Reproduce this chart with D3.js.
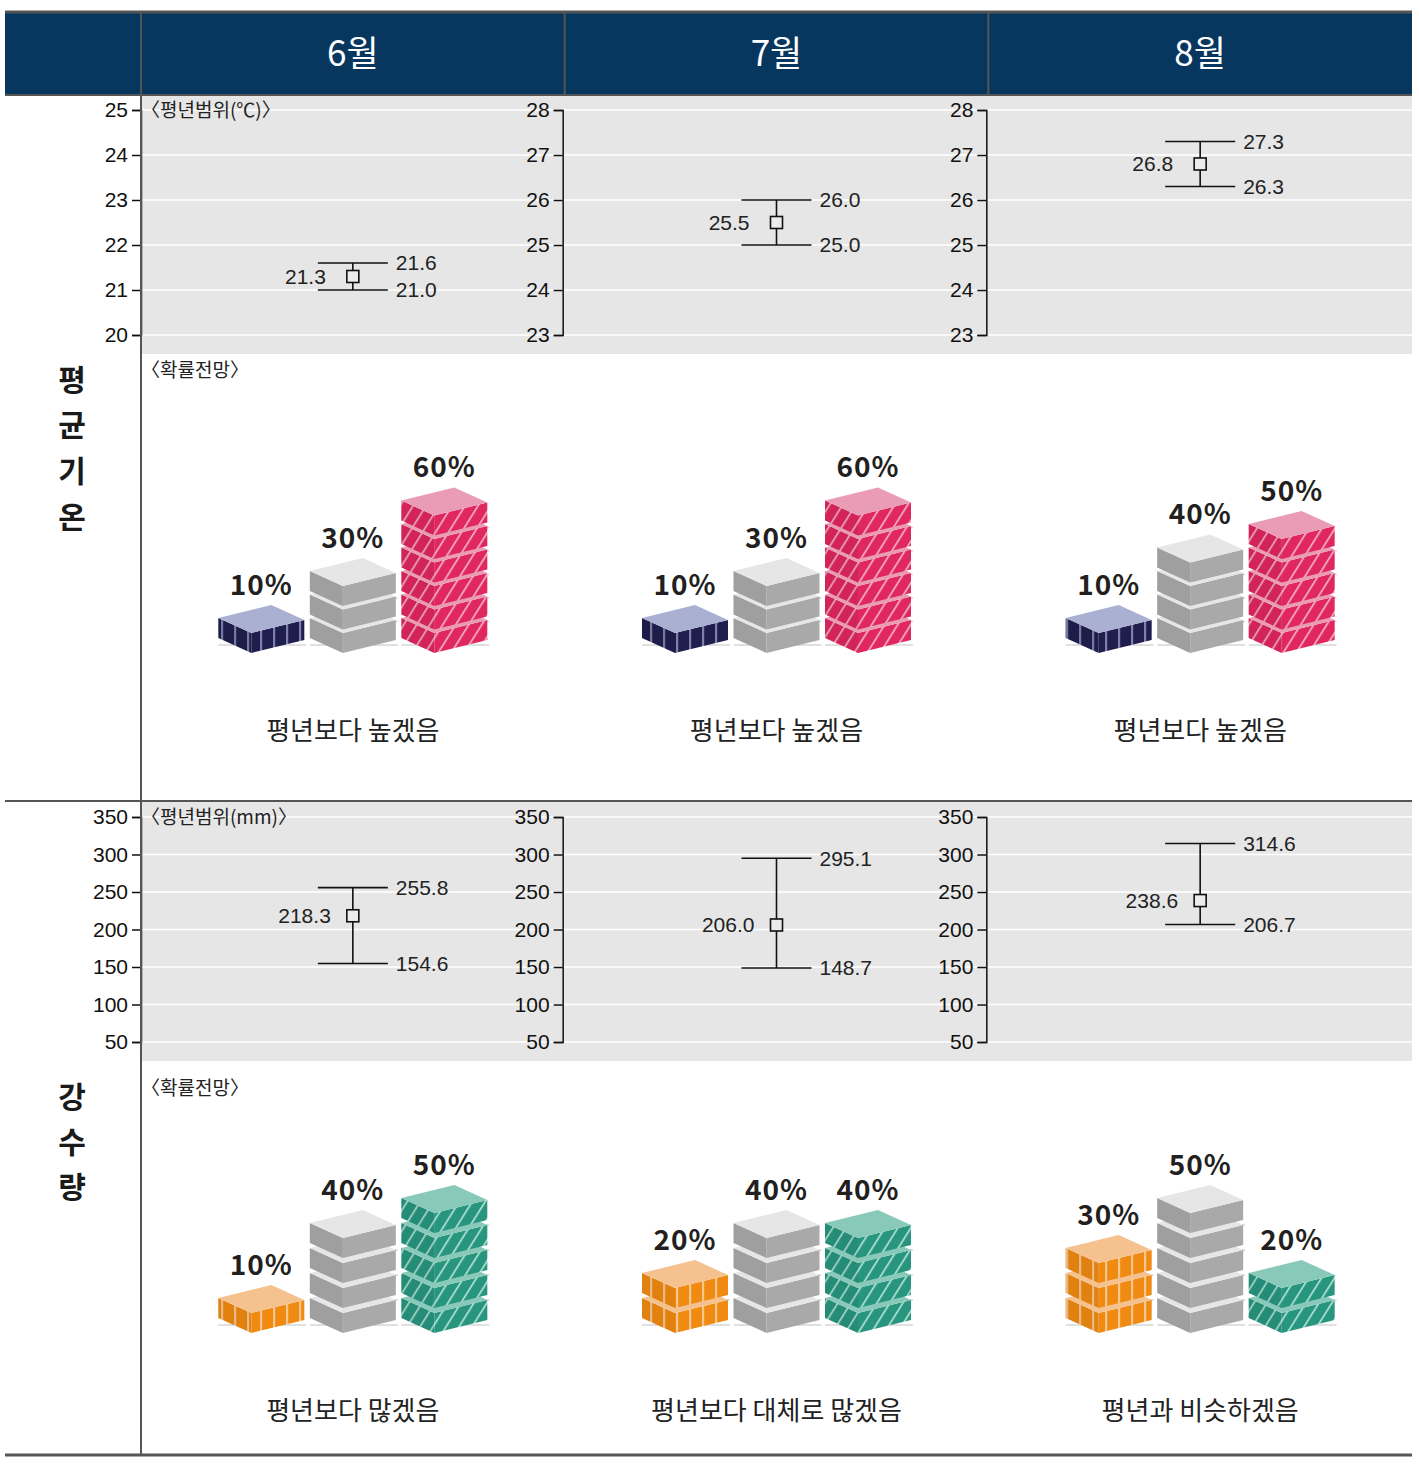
<!DOCTYPE html>
<html>
<head>
<meta charset="utf-8">
<script src="https://cdn.jsdelivr.net/npm/d3@7"></script>
<style>
  body { margin: 0; background: #fff; }
  svg { display: block; }
</style>
</head>
<body>
<svg id="chart"></svg>
<script>
const months = ['6월', '7월', '8월'];

// 평균기온 평년범위
const tempMean = [21.3, 25.5, 26.8];
const tempHigh = [21.6, 26.0, 27.3];
const tempLow = [21.0, 25.0, 26.3];
const tempTicks = [[20, 21, 22, 23, 24, 25], [23, 24, 25, 26, 27, 28], [23, 24, 25, 26, 27, 28]];

// 강수량 평년범위
const rainMean = [218.3, 206.0, 238.6];
const rainHigh = [255.8, 295.1, 314.6];
const rainLow = [154.6, 148.7, 206.7];
const rainTicks = [50, 100, 150, 200, 250, 300, 350];

// 확률전망 (낮음/적음, 비슷, 높음/많음)
const probCats = ['low', 'normal', 'high'];
const tempProb = [[10, 30, 60], [10, 30, 60], [10, 40, 50]];
const rainProb = [[10, 40, 50], [20, 40, 40], [30, 50, 20]];
const tempText = ['평년보다 높겠음', '평년보다 높겠음', '평년보다 높겠음'];
const rainText = ['평년보다 많겠음', '평년보다 대체로 많겠음', '평년과 비슷하겠음'];

const width = 1419, height = 1465;
const left = 5, right = 1412, labelCol = 141;
const kr = '"Noto Sans CJK KR", "Noto Sans", sans-serif';
const num = '"Liberation Sans", Arial, sans-serif';

const svg = d3.select('#chart').attr('width', width).attr('height', height);
const defs = svg.append('defs');
const x = d3.scaleBand().domain(months).range([labelCol, right]);
const cxOf = m => x(m) + x.bandwidth() / 2;

function stripes(id, base, stripe, slant) {
  const p = defs.append('pattern')
    .attr('id', id)
    .attr('patternUnits', 'userSpaceOnUse')
    .attr('width', 13).attr('height', 20);
  if (slant) p.attr('patternTransform', 'skewX(-32)');
  p.append('rect').attr('width', 13).attr('height', 20).attr('fill', base);
  p.append('rect').attr('x', 0).attr('width', 2.2).attr('height', 20).attr('fill', stripe);
}
stripes('navy', '#201e4e', '#7d80a8', false);
stripes('pink', '#e1275f', '#f2a3bf', true);
stripes('orange', '#f08a10', '#f7c58f', false);
stripes('teal', '#28967f', '#a3dacb', true);

const tempStyle = [
  { top: '#a9b0d2', side: 'url(#navy)' },
  { top: '#e6e6e6', side: '#a9a9a9' },
  { top: '#ea9cb7', side: 'url(#pink)' }
];
const rainStyle = [
  { top: '#f5c18f', side: 'url(#orange)' },
  { top: '#e6e6e6', side: '#a9a9a9' },
  { top: '#88c9b9', side: 'url(#teal)' }
];

// header
svg.append('rect').attr('x', left).attr('y', 12).attr('width', right - left).attr('height', 83)
  .attr('fill', '#07365f');
svg.append('g').selectAll('text').data(months).join('text')
  .attr('x', d => cxOf(d)).attr('y', 54).attr('dy', '0.35em')
  .attr('text-anchor', 'middle').attr('fill', '#fff')
  .style('font-family', kr).style('font-size', '35px')
  .text(d => d);

function rangePanel(top, bottom, yTop, yBottom, ticksFor, mean, high, low, title, gap) {
  svg.append('rect').attr('x', labelCol).attr('y', top).attr('width', right - labelCol).attr('height', bottom - top)
    .attr('fill', '#e6e6e6');
  months.forEach((m, i) => {
    const ticks = ticksFor(i);
    const y = d3.scaleLinear().domain(d3.extent(ticks)).range([yBottom, yTop]);
    if (i === 0) {
      svg.append('g').selectAll('line').data(ticks).join('line')
        .attr('x1', labelCol).attr('x2', right)
        .attr('y1', d => y(d)).attr('y2', d => y(d))
        .attr('stroke', '#fff').attr('stroke-width', 1.5);
    }
    const ax = i === 0 ? labelCol : x(m) - 2;
    const g = svg.append('g').attr('transform', `translate(${ax},0)`)
      .call(d3.axisLeft(y).tickValues(ticks).tickFormat(d3.format('d'))
        .tickSize(9).tickSizeOuter(9).tickPadding(4));
    g.selectAll('path, line').attr('stroke', '#111').attr('stroke-width', 1.5);
    g.selectAll('text').attr('fill', '#111')
      .style('font-family', num).style('font-size', '21px');

    const cx = cxOf(m);
    const eb = svg.append('g').attr('stroke', '#111').attr('stroke-width', 1.6);
    eb.append('line').attr('x1', cx).attr('x2', cx).attr('y1', y(high[i])).attr('y2', y(low[i]));
    [high[i], low[i]].forEach(v => {
      eb.append('line').attr('x1', cx - 35).attr('x2', cx + 35).attr('y1', y(v)).attr('y2', y(v));
    });
    eb.append('rect').attr('x', cx - 6).attr('y', y(mean[i]) - 6).attr('width', 12).attr('height', 12)
      .attr('fill', '#ececec');

    const fmt = d3.format('.1f');
    const lab = svg.append('g').attr('fill', '#222').style('font-family', num).style('font-size', '21px');
    lab.append('text').attr('x', cx - gap).attr('y', y(mean[i])).attr('dy', '0.35em')
      .attr('text-anchor', 'end').text(fmt(mean[i]));
    [high[i], low[i]].forEach(v => {
      lab.append('text').attr('x', cx + 43).attr('y', y(v)).attr('dy', '0.35em').text(fmt(v));
    });
  });
  svg.append('text').attr('x', 141).attr('y', yTop).attr('dy', '0.35em')
    .attr('fill', '#222').style('font-family', kr).style('font-size', '19px')
    .text(title);
}

function slab(g, x0, t, st) {
  const pts = a => a.map(p => p.join(',')).join(' ');
  const leftFace = pts([[x0, t + 13], [x0 + 33, t + 28], [x0 + 33, t + 48], [x0, t + 33]]);
  g.append('polygon').attr('points', leftFace).attr('fill', st.side);
  g.append('polygon').attr('points', leftFace).attr('fill', '#000').attr('opacity', 0.06);
  g.append('polygon').attr('points', pts([[x0 + 33, t + 28], [x0 + 86, t + 15], [x0 + 86, t + 35], [x0 + 33, t + 48]]))
    .attr('fill', st.side);
  g.append('polygon').attr('points', pts([[x0 + 53, t], [x0 + 86, t + 15], [x0 + 33, t + 28], [x0, t + 13]]))
    .attr('fill', st.top);
}

function probPanel(titleY, base, pitch, textY, probs, styles, texts) {
  svg.append('text').attr('x', 141).attr('y', titleY).attr('dy', '0.35em')
    .attr('fill', '#222').style('font-family', kr).style('font-size', '19px')
    .text('〈확률전망〉');
  const stack = d3.scaleLinear().domain([0, 10]).range([0, pitch]);
  months.forEach((m, i) => {
    const cx = cxOf(m);
    const xp = d3.scalePoint().domain(probCats).range([cx - 91.5, cx + 91.5]);
    const g = svg.append('g');
    probCats.forEach((c, j) => {
      const v = probs[i][j];
      const x0 = xp(c) - 43;
      const levels = d3.range(0, v, 10);
      g.selectAll(null).data(levels).join('line')
        .attr('x1', x0).attr('x2', x0 + 88)
        .attr('y1', d => base - 8 - stack(d)).attr('y2', d => base - 8 - stack(d))
        .attr('stroke', '#d6d6d6').attr('stroke-width', 1.5);
      levels.forEach(d => slab(g, x0, base - 48 - stack(d), styles[j]));
      g.append('text').attr('x', xp(c)).attr('y', base - 48 - stack(v - 10) - 20).attr('dy', '0.35em')
        .attr('text-anchor', 'middle').attr('fill', '#231f20')
        .style('font-family', kr).style('font-size', '28px').style('font-weight', 700)
        .style('letter-spacing', '1px')
        .text(v + '%');
    });
    svg.append('text').attr('x', cx).attr('y', textY).attr('dy', '0.35em')
      .attr('text-anchor', 'middle').attr('fill', '#222')
      .style('font-family', kr).style('font-size', '26px')
      .text(texts[i]);
  });
}

rangePanel(95, 354, 110, 335, i => tempTicks[i], tempMean, tempHigh, tempLow, '〈평년범위(℃)〉', 27);
probPanel(370, 653, 23.5, 731, tempProb, tempStyle, tempText);

rangePanel(801, 1061, 817, 1042, () => rainTicks, rainMean, rainHigh, rainLow, '〈평년범위(mm)〉', 22);
probPanel(1088, 1333, 25, 1411, rainProb, rainStyle, rainText);

// row labels
function rowLabel(chars, y0, step) {
  svg.append('g').selectAll('text').data(chars).join('text')
    .attr('x', 72).attr('y', (d, i) => y0 + i * step).attr('dy', '0.35em')
    .attr('text-anchor', 'middle').attr('fill', '#1a1a1a')
    .style('font-family', kr).style('font-size', '30px').style('font-weight', 700)
    .text(d => d);
}
rowLabel(['평', '균', '기', '온'], 380, 45.7);
rowLabel(['강', '수', '량'], 1097, 45);

// table lines
const lines = svg.append('g').attr('stroke', '#555');
lines.append('line').attr('x1', left).attr('x2', right).attr('y1', 12).attr('y2', 12).attr('stroke-width', 3);
lines.append('line').attr('x1', left).attr('x2', right).attr('y1', 95).attr('y2', 95).attr('stroke-width', 2);
months.slice(1).forEach(m => {
  lines.append('line').attr('x1', x(m)).attr('x2', x(m)).attr('y1', 12).attr('y2', 95).attr('stroke-width', 2);
});
lines.append('line').attr('x1', labelCol).attr('x2', labelCol).attr('y1', 12).attr('y2', 1455).attr('stroke-width', 2);
lines.append('line').attr('x1', left).attr('x2', right).attr('y1', 801).attr('y2', 801).attr('stroke-width', 2);
lines.append('line').attr('x1', left).attr('x2', right).attr('y1', 1455).attr('y2', 1455).attr('stroke-width', 3);
</script>
</body>
</html>
